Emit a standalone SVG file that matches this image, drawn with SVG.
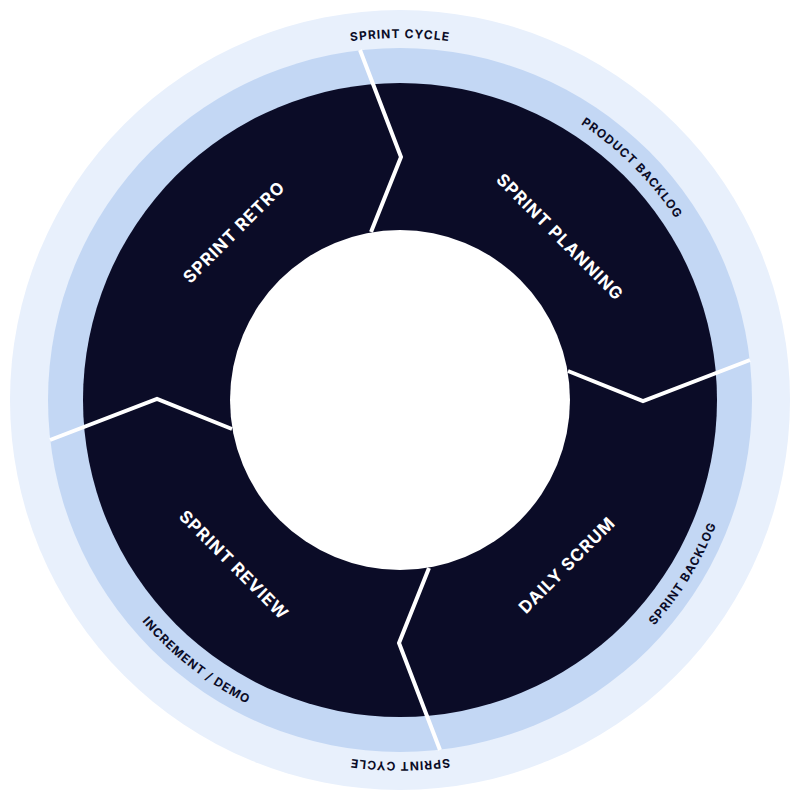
<svg xmlns="http://www.w3.org/2000/svg" width="800" height="800" viewBox="0 0 800 800">
<style>
.big{font-family:Inter,"Liberation Sans",sans-serif;font-weight:700;font-size:17px;fill:#fff;letter-spacing:1px;text-anchor:middle}
.sm{font-family:Inter,"Liberation Sans",sans-serif;font-weight:700;font-size:12px;fill:#0b0c27;letter-spacing:1px;text-anchor:middle}
.sep{fill:none;stroke:#fff;stroke-width:4;stroke-linejoin:miter}
</style>
<defs>
<path id="p1" d="M86.5,219 A362,362 0 0 1 713.5,219"/>
<path id="p2" d="M314.6,81.3 A330,330 0 0 1 718.7,485.4"/>
<path id="p3" d="M391.1,739.9 A340,340 0 0 0 698.8,237.8"/>
<path id="p4" d="M63.3,352.7 A340,340 0 0 0 527.4,715.2"/>
<path id="p5" d="M713.5,581 A362,362 0 0 1 86.5,581"/>
</defs>
<g id="rings">
<circle cx="400" cy="400" r="390" fill="#e8f0fc"/>
<circle cx="400" cy="400" r="352" fill="#c3d7f4"/>
<circle cx="400" cy="400" r="317" fill="#0b0c27"/>
<circle cx="400" cy="400" r="170" fill="#fff"/>
</g>
<g id="connectors">
<path class="sep" d="M360,50 L401,157 L371,232"/>
<path class="sep" d="M360,50 L401,157 L371,232" transform="rotate(90 400 400)"/>
<path class="sep" d="M360,50 L401,157 L371,232" transform="rotate(180 400 400)"/>
<path class="sep" d="M360,50 L401,157 L371,232" transform="rotate(270 400 400)"/>
</g>
<g id="planning"><text class="big" transform="translate(560,237) rotate(45)" dy="6">SPRINT PLANNING</text></g>
<g id="scrum"><text class="big" transform="translate(567,565) rotate(-45)" dy="6">DAILY SCRUM</text></g>
<g id="review"><text class="big" transform="translate(234,565) rotate(45)" dy="6">SPRINT REVIEW</text></g>
<g id="retro"><text class="big" transform="translate(234,232) rotate(-45)" dy="6">SPRINT RETRO</text></g>
<g id="ring-labels">
<text class="sm"><textPath href="#p1" startOffset="50%">SPRINT CYCLE</textPath></text>
<text class="sm"><textPath href="#p2" startOffset="50%">PRODUCT BACKLOG</textPath></text>
<text class="sm"><textPath href="#p3" startOffset="50%">SPRINT BACKLOG</textPath></text>
<text class="sm"><textPath href="#p4" startOffset="50%">INCREMENT / DEMO</textPath></text>
<text class="sm"><textPath href="#p5" startOffset="50%">SPRINT CYCLE</textPath></text>
</g>
</svg>
